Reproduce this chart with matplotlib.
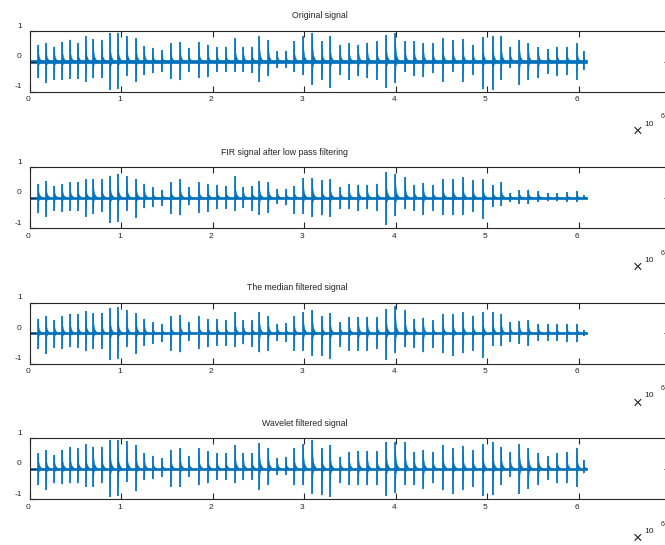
import numpy as np
import matplotlib
matplotlib.use('Agg')
import matplotlib.pyplot as plt
import matplotlib.transforms as mtransforms
from matplotlib.collections import PolyCollection
from matplotlib.ticker import FuncFormatter

plt.rcParams['font.family'] = ['Liberation Sans', 'DejaVu Sans']

# burst onset positions (x 10^6 samples), same for all four signals
burst_pos = [0.091, 0.175, 0.266, 0.353, 0.438, 0.522, 0.609, 0.693, 0.784, 0.875,
             0.960, 1.058, 1.160, 1.251, 1.342, 1.441, 1.539, 1.641, 1.736, 1.846,
             1.944, 2.043, 2.141, 2.243, 2.334, 2.426, 2.509, 2.607, 2.706, 2.798,
             2.888, 2.990, 3.089, 3.191, 3.282, 3.392, 3.490, 3.592, 3.690, 3.793,
             3.895, 3.997, 4.103, 4.201, 4.303, 4.406, 4.515, 4.625, 4.734, 4.843,
             4.953, 5.062, 5.153, 5.252, 5.353, 5.452, 5.561, 5.664, 5.762, 5.872,
             5.981, 6.054]
signal_len = 6.09e6
noise_amp = 0.035

titles = ['Original signal', 'FIR signal after low pass filtering',
          'The median filtered signal', 'Wavelet filtered signal']

# positive / negative peak of every burst
orig_max = [0.55, 0.62, 0.49, 0.63, 0.71, 0.62, 0.82, 0.73, 0.72, 0.93,
            0.95, 0.84, 0.78, 0.51, 0.45, 0.37, 0.60, 0.65, 0.44, 0.65,
            0.55, 0.48, 0.49, 0.77, 0.49, 0.49, 0.82, 0.71, 0.33, 0.36,
            0.66, 0.82, 0.93, 0.66, 0.82, 0.55, 0.60, 0.55, 0.62, 0.66,
            0.87, 0.93, 0.66, 0.66, 0.60, 0.60, 0.77, 0.71, 0.73, 0.55,
            0.79, 0.84, 0.84, 0.49, 0.71, 0.60, 0.47, 0.40, 0.49, 0.49,
            0.60, 0.33]
orig_min = [-0.55, -0.71, -0.60, -0.60, -0.57, -0.57, -0.66, -0.55, -0.55, -0.93,
            -0.91, -0.48, -0.68, -0.44, -0.39, -0.33, -0.58, -0.61, -0.35, -0.55,
            -0.52, -0.35, -0.33, -0.33, -0.33, -0.38, -0.66, -0.49, -0.22, -0.22,
            -0.33, -0.44, -0.77, -0.60, -0.87, -0.44, -0.60, -0.49, -0.55, -0.60,
            -0.87, -0.71, -0.33, -0.49, -0.50, -0.38, -0.66, -0.33, -0.66, -0.44,
            -0.91, -0.93, -0.60, -0.22, -0.77, -0.60, -0.55, -0.40, -0.49, -0.44,
            -0.60, -0.27]

fir_max = [0.46, 0.54, 0.38, 0.46, 0.51, 0.51, 0.62, 0.62, 0.62, 0.73,
           0.79, 0.71, 0.62, 0.46, 0.35, 0.27, 0.51, 0.60, 0.35, 0.51,
           0.46, 0.43, 0.40, 0.71, 0.35, 0.40, 0.54, 0.51, 0.30, 0.30,
           0.38, 0.64, 0.64, 0.57, 0.62, 0.35, 0.46, 0.43, 0.43, 0.46,
           0.84, 0.79, 0.68, 0.43, 0.49, 0.43, 0.62, 0.62, 0.68, 0.57,
           0.62, 0.43, 0.51, 0.16, 0.24, 0.27, 0.21, 0.16, 0.16, 0.19,
           0.21, 0.08]
fir_min = [-0.51, -0.63, -0.42, -0.45, -0.42, -0.42, -0.63, -0.52, -0.47, -0.82,
           -0.78, -0.42, -0.67, -0.34, -0.31, -0.27, -0.52, -0.58, -0.25, -0.49,
           -0.45, -0.38, -0.36, -0.42, -0.34, -0.42, -0.56, -0.49, -0.20, -0.25,
           -0.52, -0.52, -0.63, -0.58, -0.63, -0.38, -0.38, -0.42, -0.38, -0.42,
           -0.89, -0.60, -0.38, -0.42, -0.56, -0.42, -0.58, -0.58, -0.58, -0.47,
           -0.69, -0.31, -0.27, -0.14, -0.20, -0.20, -0.14, -0.12, -0.12, -0.14,
           -0.14, -0.05]

med_max = [0.47, 0.58, 0.42, 0.55, 0.64, 0.64, 0.73, 0.66, 0.66, 0.82,
           0.86, 0.75, 0.66, 0.47, 0.36, 0.29, 0.55, 0.60, 0.36, 0.55,
           0.47, 0.47, 0.44, 0.69, 0.42, 0.44, 0.69, 0.55, 0.31, 0.33,
           0.55, 0.69, 0.76, 0.55, 0.66, 0.36, 0.53, 0.53, 0.53, 0.53,
           0.80, 0.90, 0.77, 0.47, 0.51, 0.42, 0.64, 0.64, 0.69, 0.58,
           0.69, 0.69, 0.64, 0.36, 0.40, 0.42, 0.31, 0.29, 0.31, 0.31,
           0.31, 0.09]
med_min = [-0.52, -0.68, -0.48, -0.52, -0.46, -0.48, -0.59, -0.52, -0.52, -0.88,
           -0.85, -0.46, -0.68, -0.41, -0.35, -0.30, -0.57, -0.63, -0.26, -0.52,
           -0.46, -0.41, -0.41, -0.46, -0.37, -0.44, -0.63, -0.57, -0.24, -0.30,
           -0.57, -0.57, -0.74, -0.74, -0.85, -0.46, -0.57, -0.57, -0.57, -0.52,
           -0.88, -0.65, -0.46, -0.48, -0.63, -0.48, -0.66, -0.74, -0.66, -0.57,
           -0.81, -0.41, -0.41, -0.30, -0.35, -0.41, -0.24, -0.24, -0.26, -0.30,
           -0.30, -0.08]

wav_max = [0.51, 0.62, 0.45, 0.62, 0.73, 0.67, 0.80, 0.73, 0.73, 0.95,
           0.95, 0.91, 0.78, 0.51, 0.43, 0.34, 0.62, 0.67, 0.43, 0.67,
           0.58, 0.51, 0.51, 0.78, 0.51, 0.51, 0.84, 0.69, 0.36, 0.40,
           0.67, 0.80, 0.95, 0.69, 0.78, 0.40, 0.56, 0.58, 0.58, 0.58,
           0.89, 0.88, 0.87, 0.56, 0.62, 0.56, 0.78, 0.69, 0.76, 0.62,
           0.80, 0.87, 0.73, 0.56, 0.80, 0.67, 0.51, 0.43, 0.51, 0.56,
           0.69, 0.29]
wav_min = [-0.54, -0.70, -0.48, -0.51, -0.48, -0.48, -0.59, -0.59, -0.48, -0.92,
           -0.89, -0.43, -0.74, -0.37, -0.34, -0.26, -0.59, -0.59, -0.26, -0.54,
           -0.48, -0.37, -0.37, -0.48, -0.37, -0.37, -0.70, -0.54, -0.21, -0.21,
           -0.54, -0.54, -0.81, -0.87, -0.92, -0.48, -0.54, -0.54, -0.54, -0.54,
           -0.89, -0.78, -0.54, -0.54, -0.65, -0.48, -0.70, -0.81, -0.70, -0.59,
           -0.89, -0.87, -0.54, -0.26, -0.81, -0.65, -0.54, -0.37, -0.48, -0.48,
           -0.59, -0.15]

all_max = [orig_max, fir_max, med_max, wav_max]
all_min = [orig_min, fir_min, med_min, wav_min]

blue = '#0072BD'
dark = '#262626'

W, H = 665, 545
fig = plt.figure(figsize=(W / 100, H / 100), dpi=100)

ax_left, ax_w, ax_h = 30, 640, 61          # pixels, axes runs past right edge
ax_tops = [31, 167.3, 302.7, 438.3]

spp = 1e6 / 91.4                            # samples per pixel
# burst shape: thin decaying tail to the right of the onset
tail_dx = np.array([0, 0.6, 1.4, 2.6, 4.0]) * spp
tail_up = np.array([1.0, 0.42, 0.2, 0.09, 0.03])
tail_dn = np.array([1.0, 0.22, 0.1, 0.05, 0.03])

offy = mtransforms.ScaledTranslation(0, 6 / 100, fig.dpi_scale_trans)
offx = mtransforms.ScaledTranslation(-2 / 100, 0, fig.dpi_scale_trans)

for i in range(4):
    top = ax_tops[i]
    ax = fig.add_axes([ax_left / W, 1 - (top + ax_h) / H, ax_w / W, ax_h / H])
    xs = np.array(burst_pos) * 1e6
    tops = np.array(all_max[i])
    bots = np.array(all_min[i])

    # baseline noise band
    ax.fill_between([0, signal_len], -noise_amp, noise_amp, color=blue, lw=0.5)
    verts = []
    for x, t, b in zip(xs, tops, bots):
        upper = np.column_stack([x + tail_dx, t * tail_up])
        lower = np.column_stack([x + tail_dx, b * tail_dn])[::-1]
        verts.append(np.vstack([upper, lower]))
    ax.add_collection(PolyCollection(verts, facecolor=blue, edgecolor=blue, linewidth=0.3))
    ax.vlines(xs, bots, tops, color=blue, lw=1.2)

    ax.set_xlim(0, 7e6)
    ax.set_ylim(-1, 1)
    ax.set_xticks(np.arange(0, 6.5e6, 1e6))
    ax.set_yticks([-1, 0, 1])
    ax.xaxis.set_major_formatter(FuncFormatter(lambda v, p: '%d' % round(v / 1e6)))
    ax.yaxis.set_major_formatter(FuncFormatter(lambda v, p: '%d' % v))
    ax.tick_params(direction='in', top=True, right=True, length=4.5, width=0.8,
                   colors=dark, labelsize=6)
    ax.tick_params(axis='x', pad=3.2)
    ax.tick_params(axis='y', pad=6)
    for lab in ax.get_yticklabels():
        lab.set_transform(lab.get_transform() + offy)
    for lab in ax.get_xticklabels():
        lab.set_transform(lab.get_transform() + offx)
    for s in ax.spines.values():
        s.set_color(dark)
        s.set_linewidth(0.8)

    ax.set_title(titles[i], fontsize=6.3, color=dark, pad=9,
                 x=(348 - ax_left) / ax_w, ha='right')

    # x10^6 exponent label
    b = top + ax_h
    fig.text(638 / W, 1 - (b + 39.5) / H, '×', fontsize=12, ha='center', va='center', color=dark)
    fig.text(649 / W, 1 - (b + 32) / H, '10', fontsize=6, ha='center', va='center', color=dark)
    fig.text(661 / W, 1 - (b + 25) / H, '6', fontsize=5, ha='left', va='center', color=dark)

fig.savefig('out.png', dpi=100)
